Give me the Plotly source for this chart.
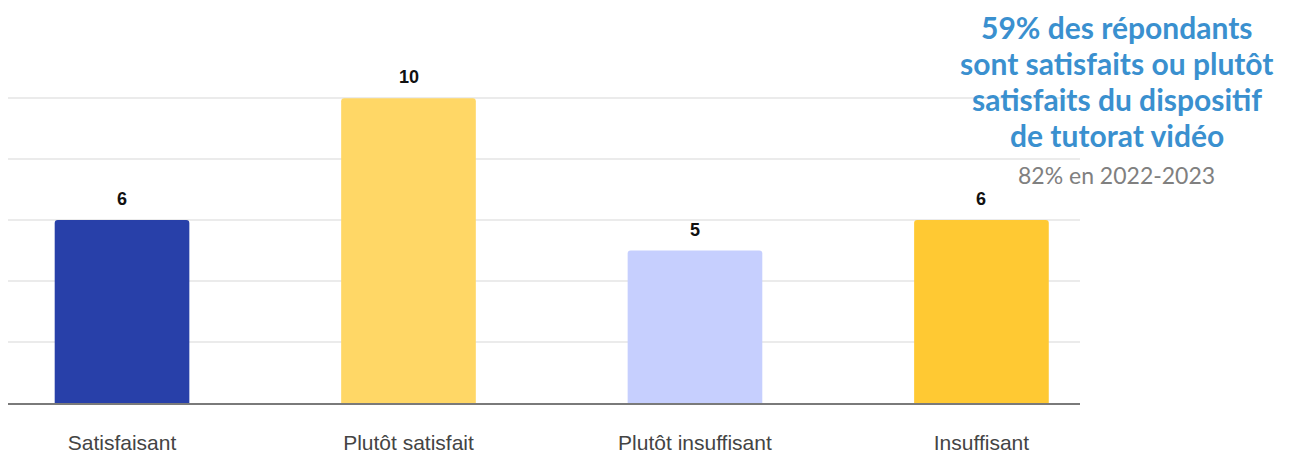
import plotly.graph_objects as go

categories = ["Satisfaisant", "Plutôt satisfait", "Plutôt insuffisant", "Insuffisant"]
values = [6, 10, 5, 6]
colors = ["#2840A9", "#FFD766", "#C6CFFE", "#FFC933"]
title_lines = ["59% des répondants", "sont satisfaits ou plutôt", "satisfaits du dispositif", "de tutorat vidéo"]
subtitle = "82% en 2022-2023"

fig = go.Figure()
fig.add_trace(go.Bar(
    x=categories, y=values, marker=dict(color=colors, cornerradius=3, line=dict(width=0)),
    width=0.47, hoverinfo="skip",
))

for c, v in zip(categories, values):
    fig.add_annotation(x=c, y=v, text=f"<b>{v}</b>", showarrow=False, yanchor="bottom",
                       yshift=9, font=dict(family="Arial", size=18, color="#111"))

# plot area: page y 96..410 approx (height 314)
title_y = [1.226, 1.108, 0.990, 0.873]
for t, yy in zip(title_lines, title_y):
    fig.add_annotation(xref="paper", yref="paper", x=1.0345, y=yy, xanchor="center", yanchor="middle",
                       text=f"<b>{t}</b>", showarrow=False,
                       font=dict(family="Lato", size=30, color="#3A90CF"))
fig.add_annotation(xref="paper", yref="paper", x=1.0345, y=0.742, xanchor="center", yanchor="middle",
                   text=subtitle, showarrow=False, font=dict(family="Lato", size=23, color="#808080"))

fig.update_layout(
    width=1282, height=446,
    margin=dict(l=0, r=210, t=88, b=44),
    paper_bgcolor="white", plot_bgcolor="white",
    showlegend=False,
    xaxis=dict(range=[-0.398, 3.344], showgrid=False, showline=True, linecolor="#7a7a7a", linewidth=2,
               ticks="", tickfont=dict(family="Arial", size=21, color="#444"), ticklabelstandoff=20),
    yaxis=dict(range=[0, 10.07], dtick=2, showgrid=True, gridcolor="#ebebeb", gridwidth=2,
               showticklabels=False, zeroline=False, showline=False),
)

fig.write_html("out.html")
